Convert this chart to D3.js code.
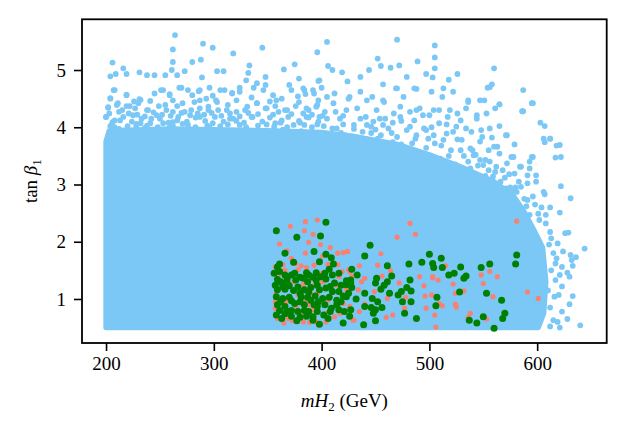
<!DOCTYPE html>
<html>
<head>
<meta charset="utf-8">
<script src="https://d3js.org/d3.v7.min.js"></script>
<style>
body { margin: 0; background: #fff; }
text { font-family: "Liberation Serif", "DejaVu Serif", serif; fill: #000; }
</style>
</head>
<body>
<div id="chart"></div>
<script>
var width = 627,
height = 435;

// tick values
var xTicks = [200, 300, 400, 500, 600];
var yTicks = [1, 2, 3, 4, 5];

// outline of the dense part of the light blue cloud (mH2, tan beta)
var denseOutline = [
  [200,0.5],[200,3.75],[203,3.94],[260,3.97],[350,3.94],[400,3.91],[430,3.84],[470,3.7],
  [500,3.52],[530,3.3],[560,3.05],[578,2.8],[588,2.52],[597,2.2],[605,1.9],[608,1.3],
  [606,0.75],[601,0.5]
];

// sparse light blue points outside the dense part
var bluePts = [
  [264,5.61],[262,5.36],[290,5.46],[299,5.39],[318,5.29],[345,5.39],[396,5.31],[206,5.13],
  [216,5.03],[204,4.89],[209,4.93],[219,4.93],[231,4.96],[238,4.91],[245,4.91],[255,4.91],
  [261,5.0],[266,4.91],[262,5.14],[273,4.98],[280,5.14],[288,5.18],[289,4.87],[303,4.98],
  [309,4.98],[333,5.08],[332,4.95],[348,4.88],[365,5.01],[375,5.10],[379,4.85],[397,4.81],
  [208,4.65],[204,4.51],[219,4.56],[232,4.48],[245,4.59],[253,4.65],[259,4.58],[270,4.69],
  [280,4.56],[287,4.65],[296,4.69],[306,4.65],[317,4.60],[324,4.69],[330,4.82],[340,4.77],
  [348,4.74],[370,4.74],[384,4.65],[392,4.65],
  [200,4.18],[202,4.35],[210,4.39],[215,4.30],[222,4.37],[230,4.42],[239,4.30],[247,4.21],
  [255,4.39],[262,4.27],[271,4.42],[279,4.30],[287,4.47],[295,4.30],[303,4.44],[312,4.30],
  [321,4.47],[329,4.30],[340,4.42],[349,4.33],[358,4.47],[368,4.30],[379,4.44],[388,4.30],
  [205,4.04],[213,4.12],[225,4.21],[232,4.07],[242,4.15],[253,4.07],[266,4.12],[276,4.04],
  [287,4.18],[299,4.07],[315,4.15],[324,4.04],[336,4.18],[349,4.05],[363,4.12],[374,4.04],
  [386,4.18],[396,4.05],[208,4.0],[220,4.02],[236,3.99],[248,4.0],[259,4.0],[283,4.0],
  [306,4.02],[330,4.0],[356,4.01],[368,4.0],[380,4.08],[391,4.0],
  [207,4.65],[219,4.57],[231,4.49],[241,4.46],[251,4.65],[259,4.56],[268,4.69],[276,4.65],
  [286,4.63],[282,4.44],[293,4.50],[302,4.47],[310,4.65],[317,4.59],[324,4.62],[337,4.69],
  [346,4.65],[355,4.56],[363,4.50],[372,4.65],[383,4.68],[393,4.59],[400,4.69],[405,4.53],
  [204,4.50],[211,4.42],[202,4.34],[219,4.37],[227,4.33],[238,4.30],[249,4.37],[256,4.30],
  [266,4.37],[273,4.27],[287,4.33],[295,4.36],[304,4.30],[313,4.39],[321,4.27],[331,4.36],
  [340,4.42],[348,4.33],[357,4.37],[366,4.30],[376,4.37],[386,4.33],[396,4.39],[403,4.27],
  [200,4.18],[208,4.12],[216,4.18],[224,4.10],[233,4.15],[241,4.07],[250,4.15],[258,4.08],
  [267,4.18],[275,4.10],[283,4.17],[292,4.11],[301,4.18],[309,4.10],[318,4.15],[328,4.08],
  [335,4.18],[345,4.10],[352,4.17],[362,4.08],[369,4.18],[379,4.11],[388,4.17],[397,4.10],
  [405,4.15],[204,4.02],[212,3.97],[228,4.01],[245,3.95],[262,4.03],[279,3.96],[296,3.99],
  [313,3.94],[330,3.97],[347,3.92],[364,3.96],[381,3.93],[398,3.9],[217,3.92],[236,3.9],
  [254,3.93],[270,3.91],[288,3.92],[304,3.9],[321,3.91],[338,3.89],[356,3.9],[373,3.88],
  [390,3.87],[406,3.85],
  [203,4.24],[212,4.27],[221,4.24],[229,4.22],[236,4.19],[244,4.26],[252,4.22],[260,4.20],
  [270,4.25],[278,4.21],[285,4.24],[291,4.22],[298,4.25],[307,4.20],[315,4.24],[324,4.19],
  [332,4.25],[341,4.23],[355,4.22],[360,4.27],[372,4.23],[383,4.24],[391,4.22],[401,4.20],
  [206,4.09],[228,4.06],[238,4.03],[262,4.09],[271,4.06],[294,4.03],[313,4.05],[321,4.11],
  [341,4.03],[357,4.07],[384,4.04],[402,4.02],[226,4.45],[262,4.47],[299,4.55],[335,4.52],
  [352,4.45],[378,4.54],[397,4.47],
  [470,5.53],[405,5.49],[505,5.43],[505,5.22],[505,5.03],[452,5.20],[489,5.15],[472,5.08],
  [455,5.07],[406,5.07],[410,5.0],[419,4.96],[560,5.03],[444,5.0],[464,5.04],[497,4.93],
  [526,4.93],[436,4.88],[479,4.88],[503,4.87],[518,4.83],[398,4.82],[424,4.80],[558,4.75],
  [554,4.69],[587,4.65],[385,4.58],[457,4.75],[469,4.68],[486,4.68],[513,4.68],[536,4.47],
  [551,4.47],[565,4.40],[596,4.42],[587,4.28],[603,4.08],[607,4.02],[612,3.80],[618,3.68],
  [617,3.47],[607,3.74],[596,3.48],[593,3.40],[585,3.31],[591,3.16],[599,3.05],[622,2.97],
  [631,2.76],[607,2.83],[579,3.70],[578,3.48],[572,3.86],[565,4.02],[556,3.98],[544,4.21],
  [519,4.30],[504,4.30],[488,4.30],[473,4.36],[457,4.47],[442,4.47],[426,4.53],[411,4.42],
  [395,4.36],[398,4.18],[417,4.15],[436,4.15],[454,4.15],[473,4.18],[494,4.21],[509,4.07],
  [525,4.01],[539,3.92],[549,3.83],[560,3.66],[565,3.54],[572,3.37],[579,3.19],[585,2.96],
  [596,2.79],[516,3.89],[497,3.95],[482,4.01],[457,4.04],[442,4.04],[420,4.05],[526,3.79],
  [540,3.60],[552,3.43],[562,3.31],[410,3.98],[430,3.97],[450,3.96],[465,3.9],[488,3.86],
  [505,3.72],[520,3.6],[532,3.5],[545,3.33],[555,3.25],[570,3.12],[575,2.95],[588,2.75],
  [412,4.59],[425,4.50],[436,4.62],[447,4.53],[458,4.44],[470,4.68],[476,4.53],[488,4.67],
  [502,4.62],[512,4.53],[522,4.62],[536,4.44],[547,4.47],[556,4.70],[595,4.42],[565,4.40],
  [413,4.27],[423,4.30],[433,4.33],[441,4.18],[451,4.30],[459,4.15],[467,4.24],[474,4.11],
  [482,4.27],[491,4.33],[500,4.21],[509,4.30],[517,4.18],[526,4.24],[534,4.33],[544,4.15],
  [553,4.24],[561,4.33],[586,4.28],[414,3.98],[422,3.86],[430,4.04],[438,3.92],[446,4.01],
  [455,3.86],[462,3.98],[470,3.83],[479,3.95],[487,3.80],[495,3.98],[504,3.86],[513,3.78],
  [522,3.92],[530,3.78],[538,3.63],[547,3.75],[555,3.60],[563,3.66],[571,3.86],[576,3.48],
  [595,3.48],[584,3.31],[593,3.28],[599,3.16],[591,3.02],[606,3.80],[612,3.80],[621,3.69],
  [622,3.48],[606,2.87],[581,2.87],[571,2.93],[561,3.22],[550,3.34],[541,3.51],[547,3.43],
  [418,3.8],[440,3.74],[458,3.7],[478,3.62],[492,3.55],[510,3.45],[524,3.35],[538,3.28],
  [552,3.15],[566,3.05],[580,2.95],[590,2.62],
  [418,3.9],[428,3.84],[446,3.9],[452,3.8],[466,3.74],[474,3.7],[484,3.72],[497,3.64],
  [499,3.8],[511,3.68],[518,3.5],[529,3.6],[536,3.4],[543,3.52],[556,3.4],[559,3.14],
  [568,3.25],[574,3.18],[583,3.05],[420,4.2],[448,4.1],[466,4.08],[486,4.12],[502,4.0],
  [516,4.05],[534,3.98],[548,3.95],[558,3.82],[529,4.12],
  [644,1.88],[636,1.73],[631,1.77],[624,1.83],[633,1.58],[628,1.46],[630,1.39],[633,1.05],
  [630,0.91],[628,0.65],[640,0.54],[621,0.50],[623,1.56],[623,1.22],[623,0.78],[626,2.15],
  [629,2.16],[621,2.51],[608,2.47],[593,2.47],[602,2.38],[613,2.06],[615,1.80],[617,1.62],
  [617,1.33],[616,1.04],[615,0.63],[612,0.52],[632,1.68],[619,1.97],[578,2.9],[591,2.73],
  [601,2.49],[608,2.32],[612,2.17],[618,1.71],[621,1.42],[620,1.07],[619,0.60],[612,2.6],
  [604,2.6],[598,2.65],[610,1.15],[612,0.85],[613,1.5],[611,1.95]
];

// salmon points
var salmonPts = [
  [371,2.27],[385,2.35],[396,2.38],[384,2.19],[392,2.13],[361,1.96],[388,1.99],[399,1.95],
  [408,1.90],[415,1.80],[420,1.81],[368,1.84],[372,1.71],[357,1.56],[381,1.58],[393,1.59],
  [419,1.48],[425,1.51],[378,1.51],[401,1.45],[416,1.39],[426,1.19],[378,1.07],[390,1.10],
  [363,0.98],[377,0.84],[392,0.81],[359,0.66],[369,0.66],[389,0.59],[395,0.60],[429,0.63],
  [414,1.24],[401,1.30],[384,0.98],[404,0.75],[381,0.72],[357,0.84],[363,1.19],[374,1.30],
  [394,1.27],[420,0.92],[412,0.69],[366,1.5],[386,1.55],[406,1.6],[360,1.3],[370,1.4],
  [398,1.42],[410,1.15],[367,0.95],[388,0.9],[406,0.98],[373,0.62],[417,0.75],[358,1.1],
  [360,1.42],[364,1.6],[376,1.62],[383,1.25],[396,1.1],[408,1.05],[418,1.1],[365,0.58],
  [383,0.6],[404,0.6],[357,0.95],[415,1.6],[428,1.4],[385,1.8],[401,1.75],
  [482,2.32],[487,2.13],[470,2.08],[455,1.79],[435,1.58],[452,1.59],[464,1.49],[456,1.40],
  [426,1.48],[440,1.36],[437,1.30],[423,1.17],[434,1.16],[449,1.13],[472,1.28],[491,1.39],
  [495,1.23],[503,1.39],[508,1.33],[515,1.58],[496,1.05],[502,1.07],[512,0.88],[497,0.84],
  [505,0.72],[506,0.51],[466,0.72],[460,0.68],[430,0.63],[435,0.78],[426,0.87],[440,0.91],
  [461,1.01],[478,1.03],[477,0.84],[424,1.83],[522,1.26],
  [581,2.36],[556,1.48],[548,1.42],[563,1.39],[503,1.37],[550,1.27],[524,1.10],[532,1.14],
  [559,1.04],[591,1.12],[601,1.01],[509,0.92],[524,0.91],[525,0.86],[538,0.75],[536,0.68],
  [553,0.65]
];

// green points
var greenPts = [
  [358,2.19],[404,2.34],[377,2.08],[399,2.1],[393,1.83],[366,1.80],[374,1.64],[361,1.61],
  [359,1.56],[398,1.65],[404,1.78],[409,1.72],[411,1.61],[407,1.52],[386,1.46],[395,1.46],
  [399,1.39],[372,1.42],[366,1.42],[359,1.34],[357,1.24],[383,1.36],[387,1.30],[412,1.28],
  [418,1.24],[423,1.32],[427,1.33],[359,1.16],[366,1.17],[370,1.23],[378,1.21],[384,1.16],
  [390,1.2],[398,1.16],[404,1.19],[410,1.13],[416,1.13],[358,1.04],[364,1.01],[370,1.03],
  [381,1.04],[387,1.03],[394,1.05],[401,1.01],[407,1.03],[414,0.98],[423,1.04],[359,0.9],
  [366,0.87],[375,0.92],[384,0.9],[396,0.87],[409,0.84],[416,0.81],[421,0.78],[366,0.74],
  [372,0.70],[380,0.68],[386,0.70],[392,0.69],[398,0.56],[420,0.58],[427,0.81],
  [362,1.3],[368,1.28],[376,1.33],[392,1.38],[404,1.35],[380,1.1],[390,0.98],[397,0.95],
  [372,0.8],[388,0.78],[402,0.72],[363,0.66],[414,0.9],[420,1.05],[356,1.45],[410,1.42],
  [361,1.48],[368,1.35],[375,1.45],[380,1.38],[388,1.42],[395,1.33],[403,1.45],[416,1.45],
  [364,1.22],[374,1.15],[388,1.12],[396,1.24],[408,1.22],[362,0.95],[372,0.97],[380,0.95],
  [393,0.9],[403,0.9],[418,0.95],[361,0.8],[368,0.78],[378,0.78],[384,0.8],[396,0.78],
  [408,0.78],[377,0.62],[392,0.63],[406,0.66],[358,0.72],[428,1.2],[432,1.0],[426,0.7],
  [445,1.94],[440,1.75],[428,1.52],[433,1.42],[461,1.58],[451,1.36],[450,1.28],[461,1.30],
  [465,1.40],[458,1.24],[427,1.28],[423,1.25],[425,1.10],[440,1.10],[455,1.17],[463,1.10],
  [471,1.07],[474,1.13],[479,1.20],[483,1.14],[482,1.33],[447,1.01],[452,0.95],[475,0.95],
  [483,0.95],[440,0.87],[446,0.85],[450,0.81],[456,0.85],[448,0.75],[477,0.75],[450,0.62],
  [488,0.66],[439,0.55],[481,1.61],[493,1.64],[500,1.78],[503,1.62],[504,1.55],[511,1.71],
  [512,1.55],[518,1.42],[523,1.45],[507,1.03],[506,0.88],
  [529,1.56],[534,1.40],[532,1.36],[548,1.55],[556,1.61],[581,1.77],[580,1.61],[528,1.12],
  [553,1.10],[567,0.98],[570,0.75],[568,0.66],[550,0.69],[537,0.63],[544,0.58],[560,0.49]
];

var margin = {left: 82, right: 606.7, top: 19.3, bottom: 343};

var svg = d3.select('#chart').append('svg')
  .attr('width', width)
  .attr('height', height);

svg.append('rect').attr('width', width).attr('height', height).attr('fill', '#fff');

// scales
var scaleX = d3.scaleLinear().domain([177.7, 664.5]).range([margin.left, margin.right]);
var scaleY = d3.scaleLinear().domain([0.231, 5.886]).range([margin.bottom, margin.top]);

var blue = '#7bc8f6';

var plot = svg.append('g');

// dense body of the blue cloud
var outline = d3.line()
  .x(function(d) { return scaleX(d[0]); })
  .y(function(d) { return scaleY(d[1]); })
  .curve(d3.curveLinearClosed);

plot.append('path')
  .attr('d', outline(denseOutline))
  .attr('fill', blue)
  .attr('stroke', blue)
  .attr('stroke-width', 5.4)
  .attr('stroke-linejoin', 'round');

function drawPoints(data, r, color) {
  plot.append('g').selectAll('circle').data(data).enter().append('circle')
    .attr('cx', function(d) { return scaleX(d[0]); })
    .attr('cy', function(d) { return scaleY(d[1]); })
    .attr('r', r)
    .attr('fill', color);
}

drawPoints(bluePts, 2.9, blue);
drawPoints(salmonPts, 2.6, '#fa8072');
drawPoints(greenPts, 3.5, '#008000');

// axes
var axisBottom = d3.axisBottom(scaleX).tickValues(xTicks).tickSize(8).tickPadding(6)
  .tickFormat(d3.format('d'));
var axisLeft = d3.axisLeft(scaleY).tickValues(yTicks).tickSize(8).tickPadding(8)
  .tickFormat(d3.format('d'));

var gx = svg.append('g').attr('transform', 'translate(0,' + margin.bottom + ')').call(axisBottom);
var gy = svg.append('g').attr('transform', 'translate(' + margin.left + ',0)').call(axisLeft);

[gx, gy].forEach(function(g) {
  g.select('.domain').remove();
  g.selectAll('.tick line').attr('stroke', '#000').attr('stroke-width', 1.6);
  g.selectAll('.tick text')
    .attr('font-family', '"Liberation Serif", serif')
    .attr('font-size', 19)
    .attr('fill', '#000');
});

// frame
svg.append('rect')
  .attr('x', margin.left)
  .attr('y', margin.top)
  .attr('width', margin.right - margin.left)
  .attr('height', margin.bottom - margin.top)
  .attr('fill', 'none')
  .attr('stroke', '#000')
  .attr('stroke-width', 1.8);

// labels
var xl = svg.append('text')
  .attr('x', (margin.left + margin.right) / 2)
  .attr('y', 407)
  .attr('text-anchor', 'middle')
  .attr('font-size', 19);
xl.append('tspan').attr('font-style', 'italic').text('mH');
xl.append('tspan').attr('font-size', 13).attr('dy', 4).text('2');
xl.append('tspan').attr('dy', -4).text(' (GeV)');

var yl = svg.append('text')
  .attr('transform', 'translate(37,' + ((margin.top + margin.bottom) / 2) + ') rotate(-90)')
  .attr('text-anchor', 'middle')
  .attr('font-size', 19);
yl.append('tspan').text('tan ');
yl.append('tspan').attr('font-style', 'italic').text('β');
yl.append('tspan').attr('font-size', 13).attr('dy', 4).text('1');
</script>
</body>
</html>
